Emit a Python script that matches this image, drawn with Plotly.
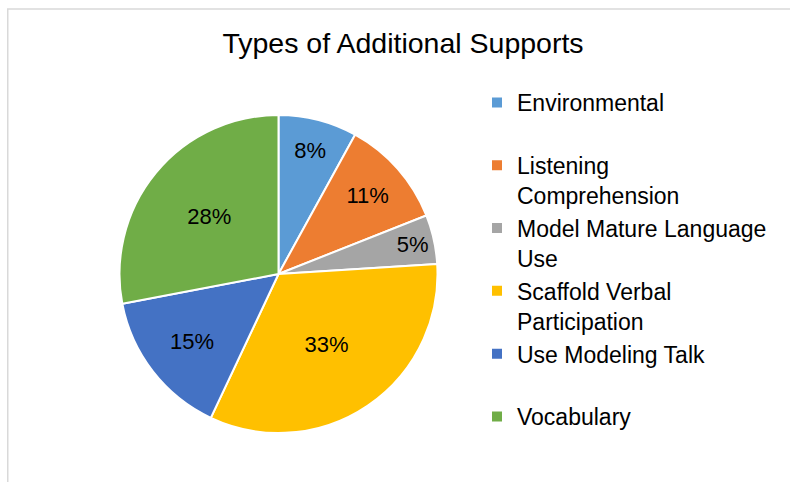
import plotly.graph_objects as go

categories = ["Environmental", "Listening Comprehension", "Model Mature Language Use",
              "Scaffold Verbal Participation", "Use Modeling Talk", "Vocabulary"]
values = [8, 11, 5, 33, 15, 28]
colors = ["#5B9BD5", "#ED7D31", "#A5A5A5", "#FFC000", "#4472C4", "#70AD47"]
legend_text = {
    "Environmental": "Environmental<br> ",
    "Listening Comprehension": "Listening<br>Comprehension",
    "Model Mature Language Use": "Model Mature Language<br>Use",
    "Scaffold Verbal Participation": "Scaffold Verbal<br>Participation",
    "Use Modeling Talk": "Use Modeling Talk<br> ",
    "Vocabulary": "Vocabulary<br> ",
}
title = "Types of Additional Supports"

W, H = 790, 482
font = "Liberation Sans, Arial, sans-serif"


def px(x):
    return x / W


def py(y):
    return 1 - y / H


fig = go.Figure(go.Pie(
    labels=[legend_text[c] for c in categories],
    values=values,
    sort=False,
    direction="clockwise",
    rotation=0,
    marker=dict(colors=colors, line=dict(color="white", width=2)),
    texttemplate="%{percent:.0%}",
    textposition="inside",
    insidetextorientation="horizontal",
    textfont=dict(family=font, size=22, color="black"),
    domain=dict(x=[px(119.5), px(437.5)], y=[py(433), py(115)]),
    hoverinfo="label+value+percent",
))

fig.update_layout(
    width=W, height=H,
    margin=dict(l=0, r=0, t=0, b=0),
    paper_bgcolor="white",
    plot_bgcolor="white",
    title=dict(text=title, x=px(403), xanchor="center", y=py(43), yanchor="middle",
               font=dict(family=font, size=28.5, color="black")),
    uniformtext=dict(minsize=22, mode="show"),
    legend=dict(x=px(477), xanchor="left", y=py(81), yanchor="top",
                valign="top", font=dict(family=font, size=23, color="black"),
                bgcolor="rgba(0,0,0,0)", traceorder="normal"),
    shapes=[dict(type="rect", xref="paper", yref="paper",
                 x0=px(7.75), x1=1.05, y0=-0.05, y1=py(9),
                 line=dict(color="#D9D9D9", width=1.5), layer="below")],
)

fig.write_html(
    "out.html",
    config={"displayModeBar": False},
    post_script="document.body.style.margin='0';document.body.style.overflow='hidden';",
)
